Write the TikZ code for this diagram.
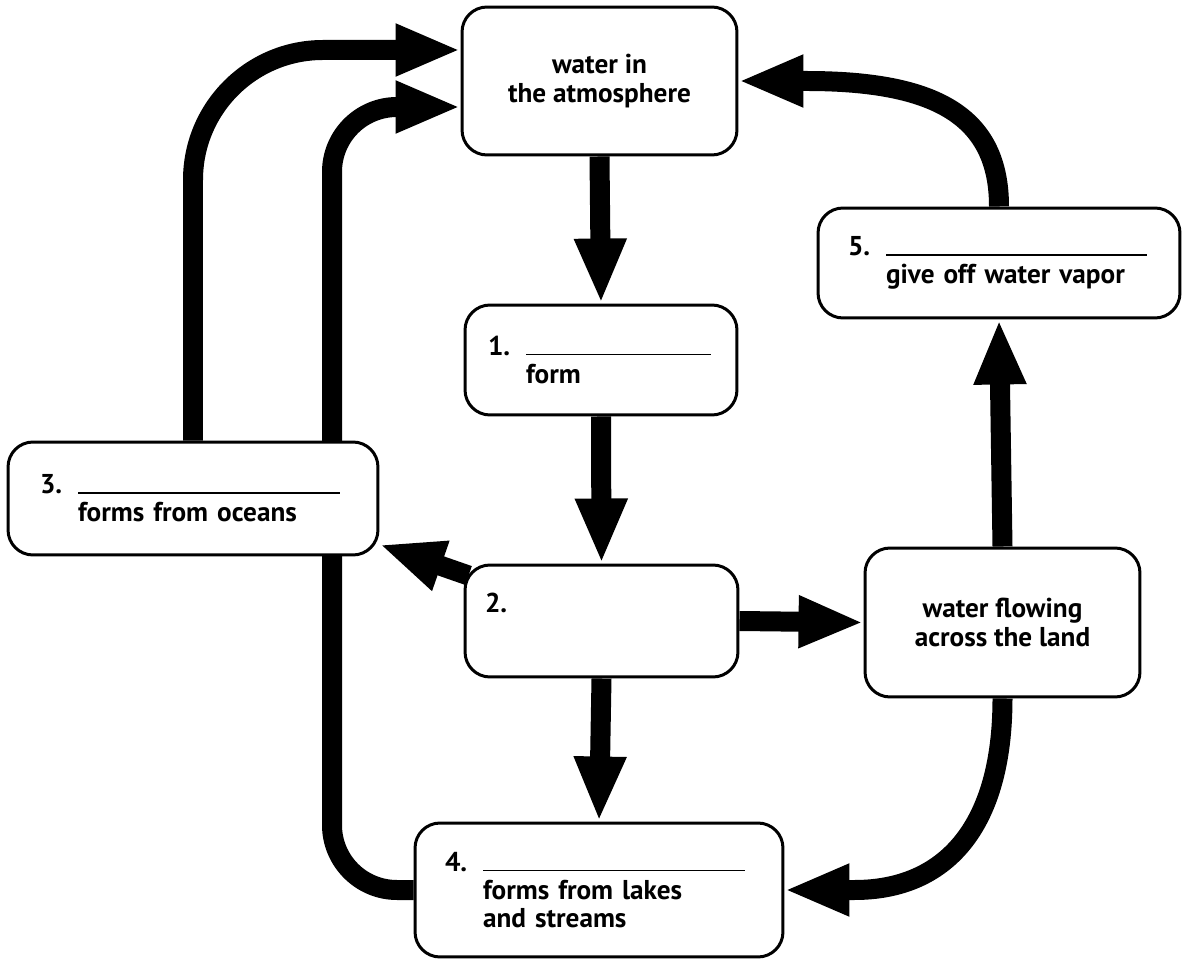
\documentclass[tikz,border=0pt]{standalone}
\usepackage{fontspec}
\setmainfont{PT Sans}
\usetikzlibrary{arrows.meta,backgrounds}
\def\answerline#1#2{\makebox[0.76cm][l]{#1}\rule{#2}{0.03cm}}
\tikzset{
	box/.style={draw, line width=0.06cm, rounded corners=0.5cm, fill=white, align=left, font=\bfseries\fontsize{15.5}{16}\selectfont},
	flow/.style={line width=0.4cm, -{Triangle[width=0.96cm,length=1.3cm]}}
}

\begin{document}
\begin{tikzpicture}[x=0.02cm, y=-0.02cm]
		%%%%% START %%%%%
		\useasboundingbox (0, 0) rectangle (1184, 959);
		
		\node[box, align=center, minimum width=5.5cm, minimum height=2.96cm] (atm) at (599.5, 81) {water in\\the atmosphere};
		\node[box, text width=4.52cm, inner xsep=0.46cm, minimum height=2.2cm] (b1) at (601, 360) {\answerline{1.}{3.7cm}\\\hspace*{0.76cm}form};
		\node[box, text width=4.66cm, inner xsep=0.4cm, minimum height=2.24cm] (b2) at (601.5, 621) {2.\\\strut};
		\node[box, text width=6.12cm, inner xsep=0.64cm, minimum height=2.26cm] (b3) at (193, 498.5) {\answerline{3.}{5.24cm}\\\hspace*{0.76cm}forms from oceans};
		\node[box, text width=6.16cm, inner xsep=0.6cm, minimum height=2.68cm] (b4) at (599, 890) {\answerline{4.}{5.24cm}\\\hspace*{0.76cm}forms from lakes\\\hspace*{0.76cm}and streams};
		\node[box, text width=6.04cm, inner xsep=0.6cm, minimum height=2.2cm] (b5) at (999, 263) {\answerline{5.}{5.22cm}\\\hspace*{0.76cm}give off water vapor};
		\node[box, align=center, minimum width=5.5cm, minimum height=2.98cm] (land) at (1002.5, 622.5) {water flowing\\across the land};
		
		\coordinate (inner) at (332, 500);
		
		\begin{scope}[on background layer]
			\draw[flow] (atm.south) -- (b1.north);
			\draw[flow] (b1.south) -- (b2.north);
			\draw[flow] (b2.south) -- (b4.north);
			\draw[flow] (b2.east) -- (land.west);
			\draw[flow] (land.north) -- (b5.south);
			\draw[flow] ([shift={(5,12)}]b2.north west) -- ([shift={(0,-12)}]b3.south east);
			
			\draw[flow] (b5.north) .. controls +(0,-90) and +(130,0) .. ([xshift=1.36cm]atm.east) -- (atm.east);
			\draw[flow] (land.south) .. controls +(0,130) and +(90,0) .. ([xshift=1.4cm]b4.east) -- (b4.east);
			
			\draw[flow, rounded corners=2.6cm] (b3.north) |- ([shift={(0,-31)}]atm.west);
			\draw[flow, rounded corners=1.3cm] (b4.west) -| (inner) |- ([shift={(0,26)}]atm.west);
		\end{scope}
		
		%%%%% END %%%%%
	\end{tikzpicture}
\end{document}
